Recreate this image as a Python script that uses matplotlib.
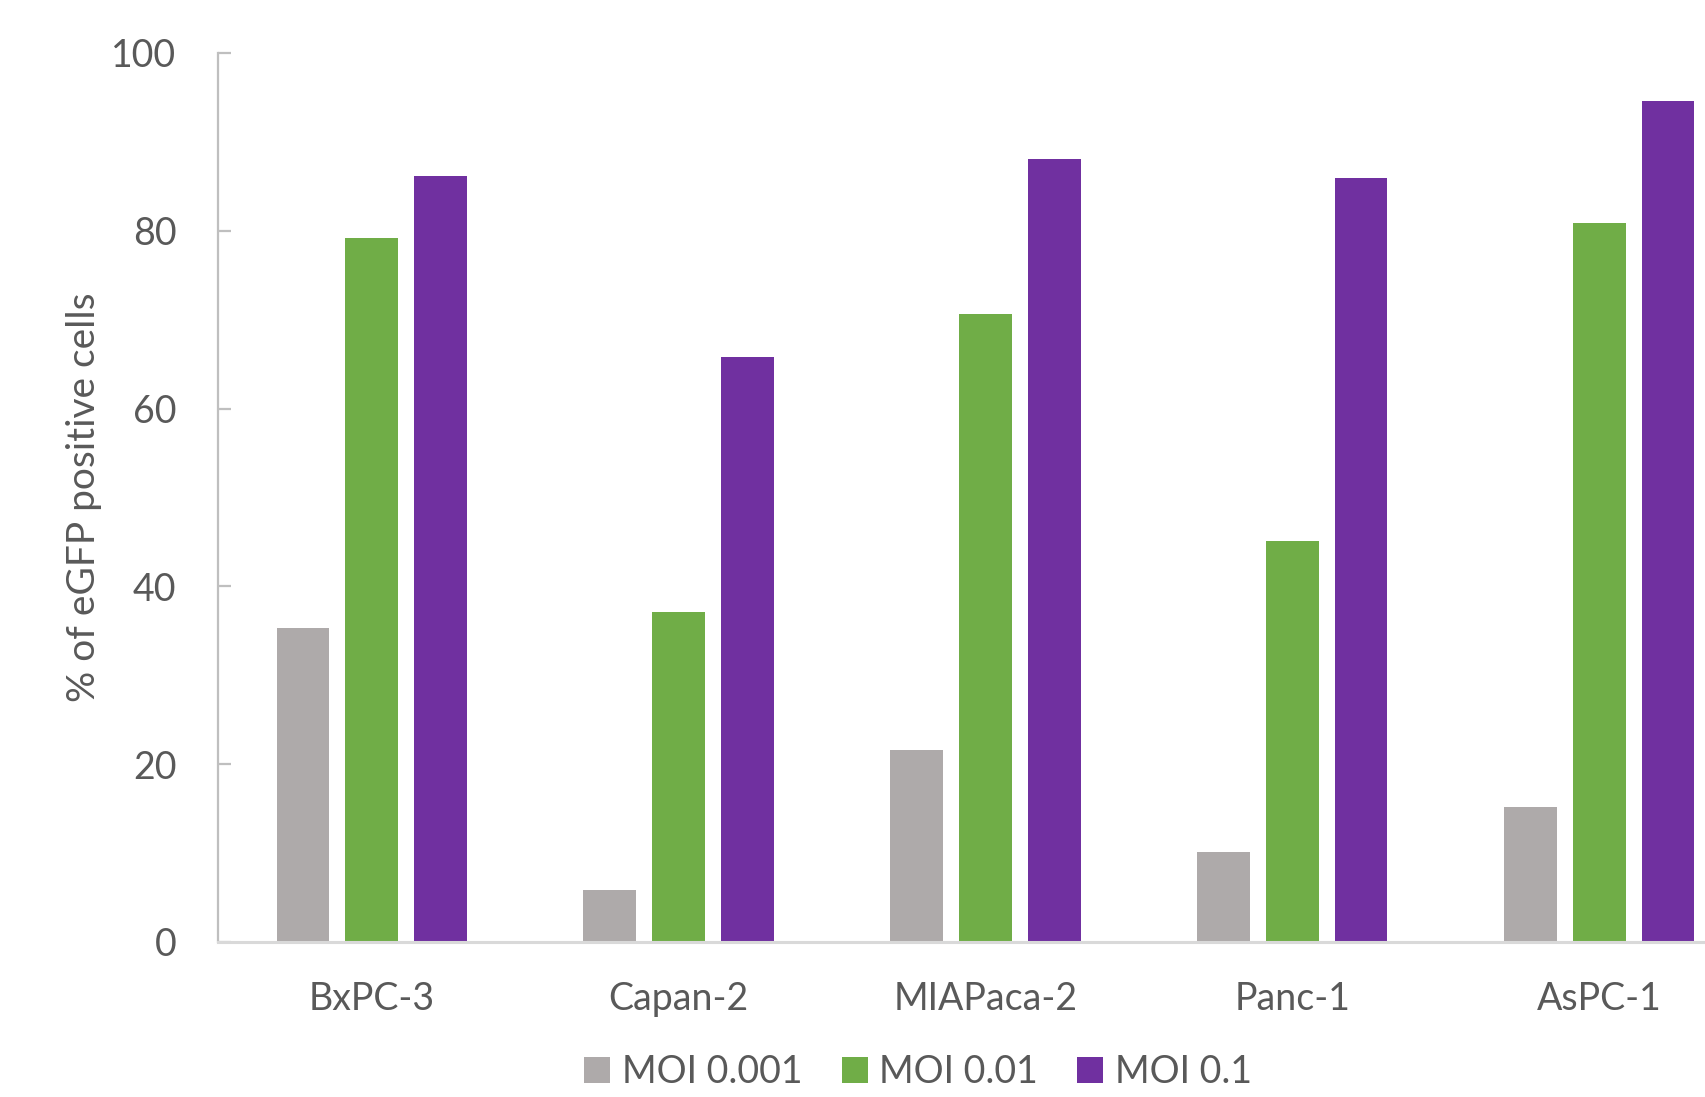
import matplotlib
matplotlib.use("Agg")
import matplotlib.pyplot as plt
import numpy as np

# Cell lines and infection efficiency (% eGFP positive cells) per MOI
cell_lines = ["BxPC-3", "Capan-2", "MIAPaca-2", "Panc-1", "AsPC-1"]
series_names = ["MOI 0.001", "MOI 0.01", "MOI 0.1"]
moi_0001 = [35.3, 5.8, 21.6, 10.1, 15.2]
moi_001 = [79.2, 37.1, 70.6, 45.1, 80.9]
moi_01 = [86.2, 65.8, 88.1, 85.9, 94.6]
y_ticks = [0, 20, 40, 60, 80, 100]

colors = ["#AEAAAA", "#70AD47", "#7030A0"]
text_color = "#595959"

plt.rcParams["font.family"] = ["Lato", "DejaVu Sans"]

fig = plt.figure(figsize=(17.06, 10.97), dpi=100)
ax = fig.add_axes([0.1278, 0.1413, 0.8722, 0.8104])

x = np.arange(len(cell_lines))
step = 0.2245
width = 0.17
bars = []
for k, (vals, name, col) in enumerate(zip([moi_0001, moi_001, moi_01], series_names, colors)):
    b = ax.bar(x + (k - 1) * step, vals, width=width, color=col, label=name,
               edgecolor="none", zorder=2)
    bars.append(b)

ax.set_xlim(-0.5, 4.347)
ax.set_ylim(0, 100)
ax.set_yticks(y_ticks)
ax.set_xticks(x)
ax.set_xticklabels(cell_lines)

for side in ["top", "right"]:
    ax.spines[side].set_visible(False)
ax.spines["left"].set_color("#BFBFBF")
ax.spines["left"].set_linewidth(1.6)
ax.spines["bottom"].set_color("#D9D9D9")
ax.spines["bottom"].set_linewidth(2.2)
ax.spines["bottom"].set_zorder(3)

ax.tick_params(axis="y", direction="in", length=9, width=1.6, color="#BFBFBF",
               labelsize=27, labelcolor=text_color, pad=30)
ax.tick_params(axis="x", length=0, labelsize=27, labelcolor=text_color, pad=28)

ax.set_ylabel("% of eGFP positive cells", fontsize=28, color=text_color)
ax.yaxis.set_label_coords(-0.078, 0.5)

fig.legend(handles=bars, labels=series_names, loc="center",
           bbox_to_anchor=(918 / 1706, 1 - 1072 / 1097), ncol=3, frameon=False,
           fontsize=27, labelcolor=text_color, handlelength=0.7, handleheight=0.7,
           handletextpad=0.3, columnspacing=1.05)

fig.savefig("out.png", dpi=100, facecolor="white")
